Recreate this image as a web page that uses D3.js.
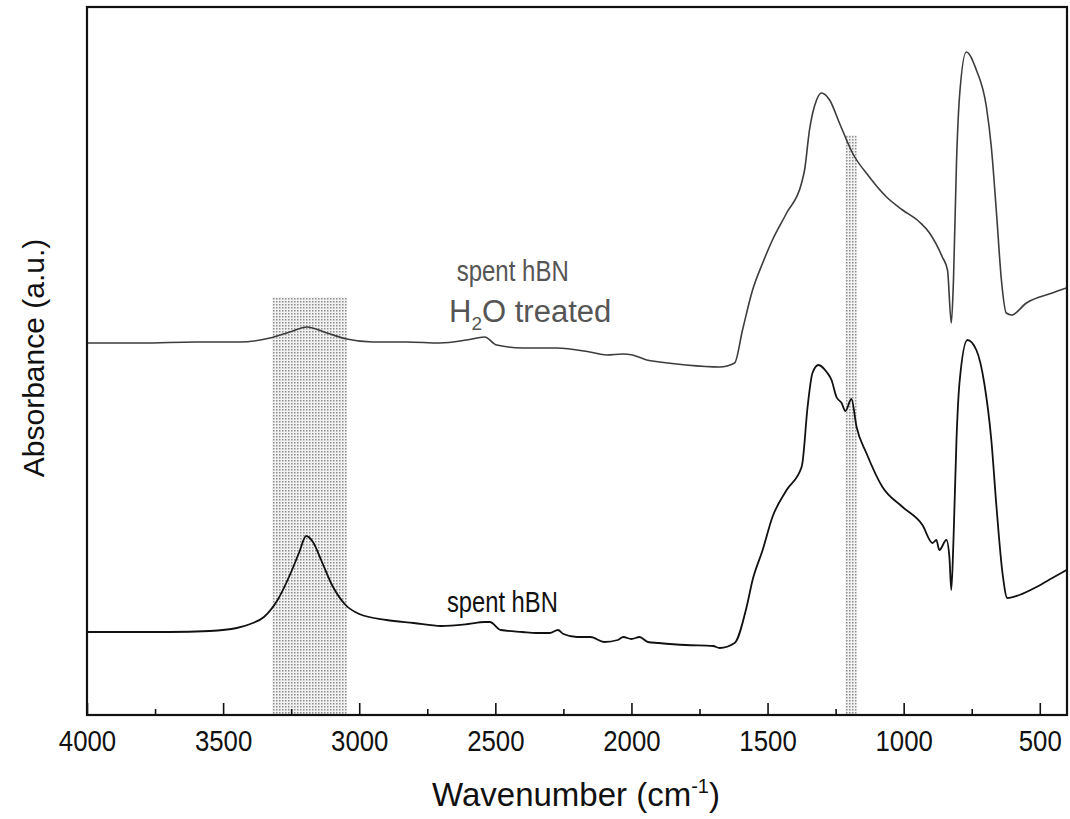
<!DOCTYPE html>
<html lang="en">
<head>
    <meta charset="UTF-8">
    <title>FTIR spectra - spent hBN</title>
    <style>
        body { margin: 0; background: #fff; font-family: "Liberation Sans", Arial, sans-serif; }
    </style>
    <script src="https://d3js.org/d3.v7.min.js"></script>
</head>
<body>
    <div id="chart"></div>

    <script>
        // Spectra: wavenumber (cm-1) and absorbance (a.u.)
        const treatedWn = [4000, 3800, 3600, 3438, 3328, 3255, 3192, 3119, 3046, 2950, 2825, 2704, 2605, 2539, 2495,
            2399, 2275, 2153, 2091, 2032, 1996, 1944, 1897, 1800, 1676, 1621, 1592, 1555, 1518, 1482, 1430, 1375,
            1364, 1346, 1320, 1302, 1272, 1236, 1188, 1126, 1063, 1004, 942, 905, 858, 839, 825, 817, 806, 795,
            770, 733, 696, 678, 659, 641, 623, 604, 549, 454, 402];
        const treatedAbs = [3.72, 3.72, 3.73, 3.73, 3.77, 3.83, 3.88, 3.82, 3.76, 3.73, 3.73, 3.72, 3.75, 3.78, 3.70,
            3.67, 3.67, 3.63, 3.60, 3.61, 3.60, 3.55, 3.53, 3.50, 3.48, 3.52, 3.85, 4.25, 4.52, 4.75, 5.02, 5.32,
            5.45, 5.85, 6.15, 6.22, 6.15, 5.92, 5.62, 5.38, 5.18, 5.05, 4.93, 4.82, 4.58, 4.45, 3.92, 4.35, 5.52, 6.18,
            6.63, 6.45, 6.08, 5.68, 5.02, 4.35, 4.02, 4.00, 4.12, 4.22, 4.27];

        const spentWn = [4000, 3700, 3550, 3450, 3400, 3350, 3300, 3250, 3220, 3195, 3170, 3140, 3100, 3050, 3000,
            2900, 2800, 2700, 2600, 2540, 2520, 2480, 2400, 2350, 2300, 2270, 2250, 2200, 2150, 2100, 2050, 2030,
            2000, 1970, 1940, 1900, 1800, 1700, 1676, 1621, 1577, 1555, 1518, 1482, 1430, 1375, 1372, 1353, 1335,
            1313, 1283, 1265, 1247, 1228, 1214, 1192, 1173, 1137, 1078, 1004, 931, 894, 880, 869, 843, 832, 825,
            817, 806, 795, 766, 733, 704, 678, 659, 637, 619, 575, 512, 454, 402];
        const spentAbs = [0.83, 0.83, 0.84, 0.87, 0.91, 0.98, 1.15, 1.43, 1.63, 1.79, 1.73, 1.55, 1.30, 1.10, 1.01,
            0.95, 0.92, 0.89, 0.91, 0.93, 0.93, 0.85, 0.83, 0.82, 0.82, 0.85, 0.81, 0.78, 0.78, 0.73, 0.75, 0.78,
            0.76, 0.78, 0.73, 0.72, 0.70, 0.69, 0.67, 0.72, 1.08, 1.35, 1.65, 1.98, 2.25, 2.48, 2.52, 3.08, 3.42,
            3.50, 3.43, 3.35, 3.18, 3.12, 3.04, 3.16, 2.88, 2.62, 2.28, 2.08, 1.90, 1.72, 1.75, 1.65, 1.75, 1.58, 1.25,
            1.75, 2.75, 3.32, 3.75, 3.65, 3.32, 2.75, 2.08, 1.42, 1.17, 1.20, 1.28, 1.37, 1.45];

        // Highlighted regions (cm-1) and their top (a.u.)
        const bandFrom = [3320, 1215];
        const bandTo = [3045, 1172];
        const bandTop = [4.18, 5.80];

        const xMajorTicks = [4000, 3500, 3000, 2500, 2000, 1500, 1000, 500];
        const xMinorTicks = [3750, 3250, 2750, 2250, 1750, 1250, 750];

        const margin = {top: 7, right: 3, bottom: 104, left: 87},
              width = 1070 - margin.left - margin.right,
              height = 819 - margin.top - margin.bottom;

        const svg = d3.select('#chart').append('svg')
            .attr('width', 1070)
            .attr('height', 819);

        // stipple pattern for the shaded bands
        const pat = svg.append('defs').append('pattern')
            .attr('id', 'stipple')
            .attr('patternUnits', 'userSpaceOnUse')
            .attr('width', 3).attr('height', 3);
        pat.append('rect').attr('width', 3).attr('height', 3).attr('fill', '#f2f2f2');
        pat.append('rect').attr('width', 1.5).attr('height', 1.5).attr('fill', '#8c8c8c');
        svg.select('defs').append('clipPath').attr('id', 'plotClip')
            .append('rect').attr('width', width).attr('height', height);

        const g = svg.append('g')
            .attr('transform', `translate(${margin.left}, ${margin.top})`);

        const x = d3.scaleLinear().domain([4000, 400]).range([0, width]);
        const y = d3.scaleLinear().domain([0, 7.08]).range([height, 0]);

        // shaded bands
        g.selectAll('.band')
            .data(bandFrom.map((d, i) => [d, bandTo[i], bandTop[i]]))
            .enter().append('rect')
              .attr('class', 'band')
              .attr('x', d => x(d[0]))
              .attr('width', d => x(d[1]) - x(d[0]))
              .attr('y', d => y(d[2]))
              .attr('height', d => height - y(d[2]))
              .attr('fill', 'url(#stipple)');

        const line = d3.line()
            .x(d => x(d[0]))
            .y(d => y(d[1]))
            .curve(d3.curveMonotoneX);

        const plot = g.append('g').attr('clip-path', 'url(#plotClip)');
        plot.append('path')
            .datum(treatedWn.map((w, i) => [w, treatedAbs[i]]))
            .attr('d', line)
            .attr('fill', 'none')
            .attr('stroke', '#3c3c3c')
            .attr('stroke-width', 1.6);
        plot.append('path')
            .datum(spentWn.map((w, i) => [w, spentAbs[i]]))
            .attr('d', line)
            .attr('fill', 'none')
            .attr('stroke', '#111')
            .attr('stroke-width', 1.8);

        // bottom axis: major ticks with labels, minor ticks without
        const xAxis = g.append('g')
            .attr('transform', `translate(0, ${height})`)
            .call(d3.axisBottom(x).tickValues(xMajorTicks).tickSizeInner(-12).tickSizeOuter(0)
                .tickPadding(15).tickFormat(d3.format('d')));
        xAxis.selectAll('text')
            .attr('fill', '#111')
            .style('font-size', '30px')
            .style('font-family', '"Liberation Sans", Arial, sans-serif')
            .attr('transform', 'scale(0.86,1)');
        xAxis.selectAll('line').attr('stroke', '#111').attr('stroke-width', 1.6);
        xAxis.select('.domain').remove();

        const xMinor = g.append('g')
            .attr('transform', `translate(0, ${height})`)
            .call(d3.axisBottom(x).tickValues(xMinorTicks).tickSizeInner(-6).tickSizeOuter(0).tickFormat(''));
        xMinor.selectAll('line').attr('stroke', '#111').attr('stroke-width', 1.6);
        xMinor.select('.domain').remove();

        // frame
        g.append('rect')
            .attr('width', width)
            .attr('height', height)
            .attr('fill', 'none')
            .attr('stroke', '#111')
            .attr('stroke-width', 2.2);

        // axis titles
        const xt = svg.append('text')
            .attr('x', 576)
            .attr('y', 806)
            .attr('text-anchor', 'middle')
            .attr('fill', '#111')
            .style('font-size', '33px');
        xt.append('tspan').text('Wavenumber (cm');
        xt.append('tspan').attr('dy', -13).style('font-size', '20px').text('-1');
        xt.append('tspan').attr('dy', 13).text(')');

        svg.append('text')
            .attr('transform', 'translate(44, 358) rotate(-90)')
            .attr('text-anchor', 'middle')
            .attr('fill', '#111')
            .style('font-size', '30px')
            .text('Absorbance (a.u.)');

        // curve labels
        g.append('text')
            .attr('transform', `translate(${x(2642)}, ${y(4.34)}) scale(0.8,1)`)
            .attr('fill', '#555')
            .style('font-size', '30px')
            .text('spent hBN');
        const h2o = g.append('text')
            .attr('x', x(2670))
            .attr('y', y(3.93))
            .attr('fill', '#555')
            .style('font-size', '31px');
        h2o.append('tspan').text('H');
        h2o.append('tspan').attr('dy', 8).style('font-size', '19px').text('2');
        h2o.append('tspan').attr('dy', -8).text('O treated');

        g.append('text')
            .attr('transform', `translate(${x(2678)}, ${y(1.03)}) scale(0.82,1)`)
            .attr('fill', '#111')
            .style('font-size', '29px')
            .text('spent hBN');
    </script>
</body>
</html>
